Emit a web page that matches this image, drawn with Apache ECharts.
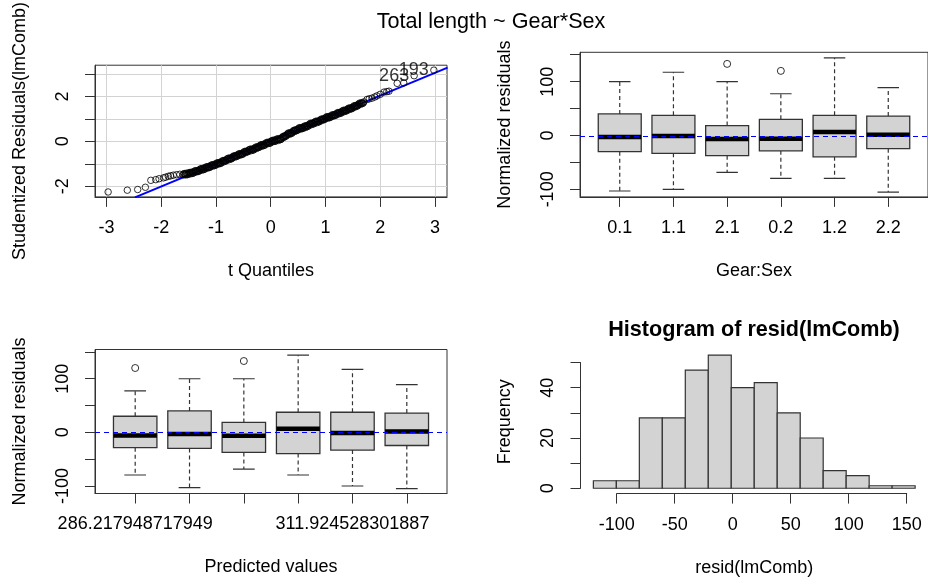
<!DOCTYPE html>
<html><head><meta charset="utf-8">
<script src="https://cdn.jsdelivr.net/npm/echarts@6/dist/echarts.min.js"></script>
<style>html,body{margin:0;padding:0;background:#fff}#c{width:928px;height:580px}</style>
</head><body><div id="c"></div>
<script>
// ---------------- DATA ----------------
// QQ plot (studentized residuals vs t quantiles)
const qqX = [-2.97,-2.62,-2.43,-2.29,-2.19,-2.10,-2.04,-1.96,-1.92,-1.87,-1.83,-1.78,-1.72,-1.66,
  -1.60,-1.55,-1.50,-1.45,-1.40,-1.35,-1.30,-1.25,-1.20,-1.15,-1.10,-1.05,-1.00,-0.95,-0.90,-0.85,
  -0.80,-0.75,-0.70,-0.65,-0.60,-0.55,-0.50,-0.45,-0.40,-0.35,-0.30,-0.25,-0.20,-0.15,-0.10,-0.05,
  0.00,0.05,0.10,0.15,0.20,0.25,0.30,0.35,0.40,0.45,0.50,0.55,0.60,0.65,0.70,0.75,0.80,0.85,0.90,
  0.95,1.00,1.05,1.10,1.15,1.20,1.25,1.30,1.35,1.40,1.45,1.50,1.55,1.60,1.65,1.70,
  1.76,1.80,1.85,1.90,1.94,2.00,2.07,2.12,2.16,2.31,2.43,2.62,2.98];
const qqY = [-2.26,-2.18,-2.15,-2.05,-1.74,-1.71,-1.67,-1.63,-1.60,-1.56,-1.54,-1.51,-1.49,-1.47,
  -1.49,-1.46,-1.44,-1.41,-1.37,-1.33,-1.28,-1.24,-1.20,-1.15,-1.11,-1.06,-1.02,-0.97,-0.93,-0.87,
  -0.81,-0.77,-0.72,-0.66,-0.61,-0.57,-0.52,-0.46,-0.40,-0.37,-0.33,-0.27,-0.21,-0.17,-0.12,-0.06,
  -0.03,0.03,0.06,0.09,0.14,0.22,0.31,0.36,0.42,0.49,0.55,0.59,0.63,0.67,0.74,0.79,0.84,0.88,0.93,
  0.98,1.04,1.08,1.12,1.17,1.22,1.27,1.32,1.37,1.42,1.47,1.52,1.58,1.64,1.70,1.76,
  1.87,1.90,1.93,1.98,2.03,2.10,2.20,2.22,2.24,2.59,2.61,2.93,3.18];
// further points in the dense middle of the QQ plot
const qqX2 = [-1.575,-1.525,-1.475,-1.425,-1.375,-1.325,-1.275,-1.225,-1.175,-1.125,-1.075,-1.025,
  -0.975,-0.925,-0.875,-0.825,-0.775,-0.725,-0.675,-0.625,-0.575,-0.525,-0.475,-0.425,-0.375,-0.325,
  -0.275,-0.225,-0.175,-0.125,-0.075,-0.025,0.025,0.075,0.125,0.175,0.225,0.275,0.325,0.375,0.425,
  0.475,0.525,0.575,0.625,0.675,0.725,0.775,0.825,0.875,0.925,0.975,1.025,1.075,1.125,1.175,1.225,
  1.275,1.325,1.375,1.425,1.475,1.525,1.575,1.625,1.675];
const qqY2 = [-1.44,-1.49,-1.39,-1.43,-1.31,-1.345,-1.22,-1.26,-1.14,-1.17,-1.05,-1.08,
  -0.96,-0.99,-0.86,-0.88,-0.75,-0.785,-0.65,-0.675,-0.55,-0.585,-0.45,-0.47,-0.35,-0.39,
  -0.26,-0.28,-0.15,-0.185,-0.05,-0.085,0.04,0.005,0.115,0.075,0.22,0.225,0.375,0.35,0.495,
  0.48,0.61,0.57,0.69,0.665,0.805,0.775,0.90,0.865,0.995,0.97,1.10,1.06,1.185,1.155,1.285,
  1.255,1.385,1.355,1.485,1.455,1.59,1.57,1.71,1.69];
const qqX3 = [-1.5875,-1.5375,-1.4875,-1.4375,-1.3875,-1.3375,-1.2875,-1.2375,-1.1875,-1.1375,-1.0875,
  -1.0375,-0.9875,-0.9375,-0.8875,-0.8375,-0.7875,-0.7375,-0.6875,-0.6375,-0.5875,-0.5375,-0.4875,
  -0.4375,-0.3875,-0.3375,-0.2875,-0.2375,-0.1875,-0.1375,-0.0875,-0.0375,0.0125,0.0625,0.1125,0.1625,
  0.2125,0.2625,0.3125,0.3625,0.4125,0.4625,0.5125,0.5625,0.6125,0.6625,0.7125,0.7625,0.8125,0.8625,
  0.9125,0.9625,1.0125,1.0625,1.1125,1.1625,1.2125,1.2625,1.3125,1.3625,1.4125,1.4625,1.5125,1.5625,
  1.6125,1.6625];
const qqY3 = [-1.45,-1.42,-1.40,-1.37,-1.33,-1.30,-1.25,-1.20,-1.16,-1.12,-1.07,
  -1.03,-0.98,-0.94,-0.89,-0.84,-0.78,-0.74,-0.68,-0.63,-0.58,-0.54,-0.48,
  -0.43,-0.37,-0.34,-0.30,-0.23,-0.18,-0.13,-0.09,-0.03,0.00,0.06,0.09,0.12,
  0.18,0.26,0.34,0.39,0.46,0.52,0.58,0.62,0.66,0.71,0.77,0.82,0.87,0.91,
  0.96,1.01,1.07,1.11,1.15,1.20,1.25,1.30,1.35,1.40,1.45,1.50,1.55,1.61,
  1.67,1.72];
const qqX4 = [-1.5625,-1.5125,-1.4625,-1.4125,-1.3625,-1.3125,-1.2625,-1.2125,-1.1625,-1.1125,-1.0625,
  -1.0125,-0.9625,-0.9125,-0.8625,-0.8125,-0.7625,-0.7125,-0.6625,-0.6125,-0.5625,-0.5125,-0.4625,
  -0.4125,-0.3625,-0.3125,-0.2625,-0.2125,-0.1625,-0.1125,-0.0625,-0.0125,0.0375,0.0875,0.1375,0.1875,
  0.2375,0.2875,0.3375,0.3875,0.4375,0.4875,0.5375,0.5875,0.6375,0.6875,0.7375,0.7875,0.8375,0.8875,
  0.9375,0.9875,1.0375,1.0875,1.1375,1.1875,1.2375,1.2875,1.3375,1.3875,1.4375,1.4875,1.5375,1.5875,
  1.6375,1.6875];
const qqY4 = [-1.50,-1.47,-1.45,-1.41,-1.37,-1.33,-1.29,-1.25,-1.20,-1.16,-1.11,
  -1.07,-1.02,-0.98,-0.92,-0.86,-0.82,-0.77,-0.71,-0.66,-0.62,-0.57,-0.51,
  -0.45,-0.42,-0.38,-0.32,-0.26,-0.22,-0.17,-0.11,-0.08,-0.02,0.01,0.04,0.09,
  0.17,0.26,0.31,0.37,0.44,0.50,0.54,0.58,0.62,0.69,0.74,0.79,0.83,0.88,
  0.93,0.99,1.03,1.07,1.12,1.17,1.22,1.27,1.32,1.37,1.42,1.47,1.53,1.59,
  1.65,1.71];
const qqIdX = [2.62, 2.98];
const qqIdY = [2.93, 3.18];
const qqIdNames = ['263', '193'];
const qqLine = [[-2.48, -2.50], [3.23, 3.29]];
const qqTicksX = [-3,-2,-1,0,1,2,3];
const qqTicksY = [-2,-1,0,1,2,3];
const qqLabelsY = [-2,0,2];

// Box plots of normalized residuals by Gear:Sex
const groupLabels = ['0.1','1.1','2.1','0.2','1.2','2.2'];
const whiskerLow  = [-103,-100,-68.5,-79.5,-79.5,-105];
const quart1      = [-30,-33,-37.5,-28.5,-39.5,-24.5];
const medians     = [-3,-1,-6.5,-6,6.5,1.5];
const quart3      = [40,37.5,18.5,30,37.5,36];
const whiskerHigh = [100,117.5,100,77.5,144,89];
const outlierGroup = [3,4];        // 1-based group position
const outlierValue = [133,120];
const resTicks = [-100,-50,0,50,100,150];
const resLabels = [-100,0,100];
const refLevel = [0];              // dashed reference line

// Same groups ordered by predicted value
const predOrder = [3,0,2,4,1,5];
const predLabels = ['286.217948717949','','','','311.924528301887',''];

// Histogram of residuals
const histBreaks = [-120,-100,-80,-60,-40,-20,0,20,40,60,80,100,120,140,160];
const histCounts = [3,3,28,28,47,53,40,42,30,20,7,5,1,1];
const histTicksX = [-100,-50,0,50,100,150];

// ---------------- CHART ----------------
const FONT = "'Liberation Sans', Arial, Helvetica, sans-serif";
const FS = 18;
const AX = '#333';
const txt = () => ({color:'#000', fontSize:FS, fontFamily:FONT});

const P1 = {left:95, top:52.3, width:352, height:144.6};
const P2 = {left:580, top:52.3, width:351, height:144.6};
const P3 = {left:95, top:349.5, width:352, height:144};
const P4 = {left:580.5, top:349.7, width:350.8, height:143.9};
const H4x = [-131.2, 171.2], H4y = [-2.12, 55.12];
const px4 = v => P4.left + (v - H4x[0]) / (H4x[1] - H4x[0]) * P4.width;
const py4 = v => P4.top + (H4y[1] - v) / (H4y[1] - H4y[0]) * P4.height;
const G4X = {left:px4(-100), width:px4(150)-px4(-100), top:P4.top+P4.height-50, height:50};
const G4Y = {left:P4.left, width:50, top:py4(50), height:py4(0)-py4(50)};

function xAxisCfg(grid, min, max, ticks, fmt, name){
  return {gridIndex:grid, type:'value', min, max,
    axisLine:{show:true, onZero:false, lineStyle:{color:AX, width:1}},
    axisTick:{show:true, length:10, inside:false, customValues:ticks, lineStyle:{color:AX}},
    axisLabel:Object.assign({customValues:ticks, margin:31, verticalAlign:'middle', align:'center',
      formatter: fmt}, txt()),
    splitLine:{show:false},
    name, nameLocation:'middle', nameGap:74, nameTextStyle:Object.assign({verticalAlign:'middle'}, txt())};
}
function yAxisCfg(grid, min, max, ticks, labels, name){
  return {gridIndex:grid, type:'value', min, max,
    axisLine:{show:true, onZero:false, lineStyle:{color:AX, width:1}},
    axisTick:{show:true, length:10, inside:false, customValues:ticks, lineStyle:{color:AX}},
    axisLabel:Object.assign({customValues:labels, margin:32, rotate:90, align:'center', verticalAlign:'middle'}, txt()),
    splitLine:{show:false},
    name, nameLocation:'middle', nameGap:75, nameRotate:90, nameTextStyle:Object.assign({verticalAlign:'middle', align:'center'}, txt())};
}

function boxRender(params, api){
  const x = api.value(0), lo = api.value(1), q1 = api.value(2), md = api.value(3), q3 = api.value(4), hi = api.value(5);
  const hw = 0.4, sw = 0.2;
  const a = api.coord([x - hw, q3]), b = api.coord([x + hw, q1]);
  const cx = api.coord([x, 0])[0];
  const yHi = api.coord([x, hi])[1], yLo = api.coord([x, lo])[1], yMd = api.coord([x, md])[1];
  const sL = api.coord([x - sw, 0])[0], sR = api.coord([x + sw, 0])[0];
  const dash = {stroke:'#333', lineWidth:1.2, lineDash:[4,3]};
  const solid = {stroke:'#333', lineWidth:1.2};
  return {type:'group', children:[
    {type:'line', shape:{x1:cx, y1:a[1], x2:cx, y2:yHi}, style:dash},
    {type:'line', shape:{x1:cx, y1:b[1], x2:cx, y2:yLo}, style:dash},
    {type:'line', shape:{x1:sL, y1:yHi, x2:sR, y2:yHi}, style:solid},
    {type:'line', shape:{x1:sL, y1:yLo, x2:sR, y2:yLo}, style:solid},
    {type:'rect', shape:{x:a[0], y:a[1], width:b[0]-a[0], height:b[1]-a[1]}, style:{fill:'#d3d3d3', stroke:'#333', lineWidth:1.3}},
    {type:'line', shape:{x1:a[0], y1:yMd, x2:b[0], y2:yMd}, style:{stroke:'#000', lineWidth:4.5}}
  ]};
}
function refRender(params, api){
  const cs = params.coordSys;
  const y = Math.round(api.coord([1, api.value(0)])[1]) + 0.5;
  return {type:'line', shape:{x1:cs.x, y1:y, x2:cs.x + cs.width, y2:y},
    style:{stroke:'#0000ff', lineWidth:1.2, lineDash:[5,4], fill:null}};
}
function histRender(params, api){
  const p0 = api.coord([api.value(0), api.value(2)]);
  const p1 = api.coord([api.value(1), 0]);
  return {type:'rect', shape:{x:p0[0], y:p0[1], width:p1[0]-p0[0], height:p1[1]-p0[1]},
    style:{fill:'#d3d3d3', stroke:'#333', lineWidth:1.2}};
}

const boxData1 = groupLabels.map((g,i)=>[i+1, whiskerLow[i], quart1[i], medians[i], quart3[i], whiskerHigh[i]]);
const boxData3 = predOrder.map((gi,k)=>[k+1, whiskerLow[gi], quart1[gi], medians[gi], quart3[gi], whiskerHigh[gi]]);
const outData1 = outlierGroup.map((g,i)=>[g, outlierValue[i]]);
const outData3 = outlierGroup.map((g,i)=>[predOrder.indexOf(g-1)+1, outlierValue[i]]);
const histData = histCounts.map((c,i)=>[histBreaks[i], histBreaks[i+1], c]);
const pairs = (xs, ys) => xs.map((x,i)=>[x, ys[i]]);
const qqData = pairs(qqX, qqY).concat(pairs(qqX2, qqY2), pairs(qqX3, qqY3), pairs(qqX4, qqY4));
const qqIdData = qqIdX.map((x,i)=>({value:[x, qqIdY[i]], name:qqIdNames[i]}));
const refData = refLevel.map(v => [v]);

const hollow = () => ({color:'rgba(0,0,0,0)', borderColor:'#000', borderWidth:1});

const hidden = (grid, min, max, isX, name, gap) => ({gridIndex:grid, type:'value', min, max,
  show: !!name, axisLine:{show:false}, axisTick:{show:false}, axisLabel:{show:false}, splitLine:{show:false},
  name: name || '', nameLocation:'middle', nameGap:gap || 0, nameRotate: isX ? 0 : 90,
  nameTextStyle:Object.assign({verticalAlign:'middle', align:'center'}, txt())});

const x0 = xAxisCfg(0, -3.21, 3.22, qqTicksX, null, 't Quantiles');
x0.splitLine = {show:true, lineStyle:{color:'#d3d3d3', width:1}};
const y0 = yAxisCfg(0, -2.48, 3.40, qqTicksY, qqLabelsY, 'Studentized Residuals(lmComb)');
y0.splitLine = {show:true, lineStyle:{color:'#d3d3d3', width:1}};

const x4 = xAxisCfg(4, -100, 150, histTicksX, null, '');
const y5 = {gridIndex:5, type:'value', min:0, max:50, interval:10,
  axisLine:{show:true, lineStyle:{color:AX}}, axisTick:{show:true, length:10, lineStyle:{color:AX}},
  axisLabel:Object.assign({margin:32, rotate:90, align:'center', verticalAlign:'middle',
    formatter: v => (v % 20 === 0 ? String(v) : '')}, txt()),
  splitLine:{show:false}};

const option = {
  animation:false,
  backgroundColor:'#fff',
  grid:[
    Object.assign({show:true, borderColor:AX, borderWidth:1, containLabel:false}, P1),
    Object.assign({show:true, borderColor:AX, borderWidth:1, containLabel:false}, P2),
    Object.assign({show:true, borderColor:AX, borderWidth:1, containLabel:false}, P3),
    Object.assign({show:false, containLabel:false}, P4),
    Object.assign({show:false, containLabel:false}, G4X),
    Object.assign({show:false, containLabel:false}, G4Y)
  ],
  xAxis:[
    x0,
    xAxisCfg(1, 0.26, 6.74, [1,2,3,4,5,6], v => groupLabels[Math.round(v)-1], 'Gear:Sex'),
    xAxisCfg(2, 0.26, 6.74, [1,2,3,4,5,6], v => predLabels[Math.round(v)-1], 'Predicted values'),
    hidden(3, H4x[0], H4x[1], true, 'resid(lmComb)', 74.4),
    x4,
    hidden(5, 0, 1, true)
  ],
  yAxis:[
    y0,
    yAxisCfg(1, -114, 154.5, resTicks, resLabels, 'Normalized residuals'),
    yAxisCfg(2, -114, 154.5, resTicks, resLabels, 'Normalized residuals'),
    hidden(3, H4y[0], H4y[1], false, 'Frequency', 75.5),
    hidden(4, 0, 1, false),
    y5
  ],
  graphic:[
    {type:'text', x:491, y:21.7, style:{text:'Total length ~ Gear*Sex', font:'21.6px ' + FONT, fill:'#000', align:'center', verticalAlign:'middle'}},
    {type:'text', x:754, y:330, style:{text:'Histogram of resid(lmComb)', font:'bold 21.6px ' + FONT, fill:'#000', align:'center', verticalAlign:'middle'}}
  ],
  series:[
    {type:'line', xAxisIndex:0, yAxisIndex:0, data:qqLine, symbol:'none', clip:true, z:3,
      lineStyle:{color:'#0000ff', width:2}},
    {type:'scatter', xAxisIndex:0, yAxisIndex:0, data:qqData, symbol:'circle', symbolSize:6.5, z:4,
      itemStyle:hollow(), large:false},
    {type:'scatter', xAxisIndex:0, yAxisIndex:0, data:qqIdData, symbolSize:0, z:5,
      label:Object.assign({show:true, position:'left', distance:5, formatter:p=>p.name}, txt())},

    {type:'custom', xAxisIndex:1, yAxisIndex:1, data:boxData1, renderItem:boxRender, z:2, clip:true},
    {type:'custom', xAxisIndex:1, yAxisIndex:1, data:refData, renderItem:refRender, z:3, silent:true},
    {type:'scatter', xAxisIndex:1, yAxisIndex:1, data:outData1, symbolSize:7, itemStyle:hollow(), z:4},

    {type:'custom', xAxisIndex:2, yAxisIndex:2, data:boxData3, renderItem:boxRender, z:2, clip:true},
    {type:'custom', xAxisIndex:2, yAxisIndex:2, data:refData, renderItem:refRender, z:3, silent:true},
    {type:'scatter', xAxisIndex:2, yAxisIndex:2, data:outData3, symbolSize:7, itemStyle:hollow(), z:4},

    {type:'custom', xAxisIndex:3, yAxisIndex:3, data:histData, renderItem:histRender, z:2}
  ]
};
const chart = echarts.init(document.getElementById('c'), null, {renderer:'canvas'});
chart.setOption(option);
</script></body></html>
